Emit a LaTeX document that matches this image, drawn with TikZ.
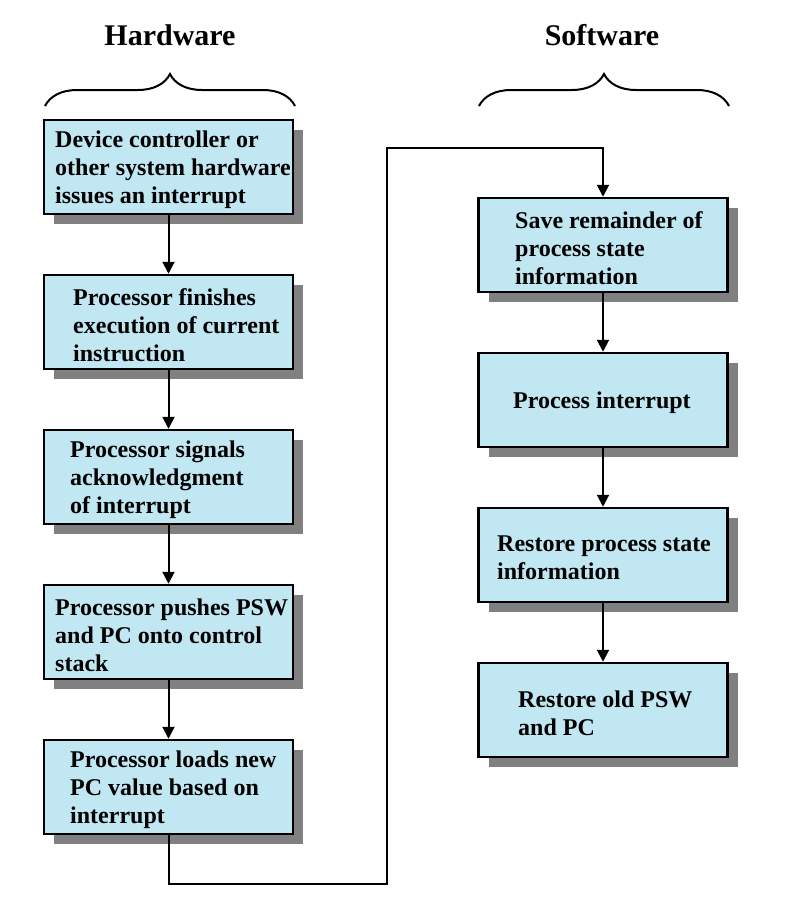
\documentclass[tikz,border=0pt]{standalone}
\usepackage{fontspec}
\setmainfont{Liberation Serif}
\usetikzlibrary{arrows.meta,shadows,decorations.pathreplacing}
\definecolor{boxfill}{RGB}{193,231,242}
\definecolor{shadowgray}{RGB}{128,128,128}
\begin{document}
\begin{tikzpicture}[x=1pt,y=-1pt,
  stepbox/.style={draw=black,line width=2.5pt,fill=boxfill,minimum width=249pt,minimum height=94pt,inner sep=0pt,
    drop shadow={shadow xshift=10pt,shadow yshift=-10pt,fill=shadowgray,opacity=1}},
  boxtext/.style={anchor=west,align=left,inner sep=0pt,yshift=-3pt,font=\fontsize{24}{28}\selectfont\bfseries},
  header/.style={font=\fontsize{30}{34}\selectfont\bfseries,inner sep=0pt},
  conn/.style={draw=black,line width=2pt},
  arr/.style={conn,-{Triangle[width=12pt,length=12pt]}},
  bracestyle/.style={draw=black,line width=2pt,decorate,decoration={brace,amplitude=32pt}}]
\useasboundingbox (0,0) rectangle (792,916);

% headers
\node[header] (hw) at (170,35) {Hardware};
\node[header] (sw) at (602,35) {Software};

% braces
\coordinate (bl1) at (45,106);
\coordinate (bl2) at (295,106);
\coordinate (br1) at (479,106);
\coordinate (br2) at (729,106);
\draw[bracestyle] (bl1) -- (bl2);
\draw[bracestyle] (br1) -- (br2);

% hardware boxes
\node[stepbox] (h1) at (168.5,167) {};
\node[stepbox] (h2) at (168.5,322) {};
\node[stepbox] (h3) at (168.5,477) {};
\node[stepbox] (h4) at (168.5,632) {};
\node[stepbox] (h5) at (168.5,787) {};

% software boxes
\node[stepbox] (s1) at (603,245) {};
\node[stepbox] (s2) at (603,400) {};
\node[stepbox] (s3) at (603,555) {};
\node[stepbox] (s4) at (603,710) {};

% texts
\node[boxtext] (t1) at (55,167) {Device controller or\\other system hardware\\issues an interrupt};
\node[boxtext] (t2) at (73,322) {Processor finishes\\execution of current\\instruction};
\node[boxtext] (t3) at (70,477) {Processor signals\\acknowledgment\\of interrupt};
\node[boxtext] (t4) at (55,632) {Processor pushes PSW\\and PC onto control\\stack};
\node[boxtext] (t5) at (70,787) {Processor loads new\\PC value based on\\interrupt};

\node[boxtext] (u1) at (515,245) {Save remainder of\\process state\\information};
\node[boxtext] (u2) at (513,400) {Process interrupt};
\node[boxtext] (u3) at (497,555) {Restore process state\\information};
\node[boxtext] (u4) at (518,710) {Restore old PSW\\and PC};

% connectors
\draw[arr] (h1) -- (h2);
\draw[arr] (h2) -- (h3);
\draw[arr] (h3) -- (h4);
\draw[arr] (h4) -- (h5);
\draw[arr] (s1) -- (s2);
\draw[arr] (s2) -- (s3);
\draw[arr] (s3) -- (s4);

\coordinate (c1) at (387,884);
\coordinate (c2) at (387,148);
\draw[arr] (h5.south) |- (c1) -- (c2) -| (s1.north);
\end{tikzpicture}
\end{document}
